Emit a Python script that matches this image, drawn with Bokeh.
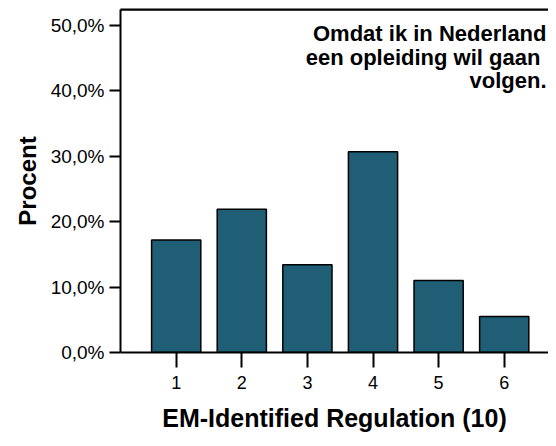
from bokeh.plotting import figure
from bokeh.models import FixedTicker, LinearAxis, Range1d, Label, Span
from bokeh.embed import file_html
from bokeh.resources import INLINE

categories = [1, 2, 3, 4, 5, 6]
percent = [17.2, 21.9, 13.4, 30.7, 11.0, 5.5]
y_ticks = [0, 10, 20, 30, 40, 50]
y_tick_labels = ["0,0%", "10,0%", "20,0%", "30,0%", "40,0%", "50,0%"]
title_lines = ["Omdat ik in Nederland", "een opleiding wil gaan ", "volgen."]
x_title = "EM-Identified Regulation (10)"
y_title = "Procent"

FONT = "Liberation Sans"
Y_MAX = 52.45

p = figure(width=548, height=438, output_backend="svg", toolbar_location=None,
           x_range=Range1d(0.151, 6.675), y_range=Range1d(0, Y_MAX),
           min_border_left=120, min_border_right=0, min_border_top=9, min_border_bottom=86)
p.outline_line_color = None
p.xgrid.visible = False
p.ygrid.visible = False

p.vbar(x=categories, top=percent, width=0.75, fill_color="#1F5E74",
       line_color="black", line_width=1.5)

# axes
for ax in [p.xaxis[0], p.yaxis[0]]:
    ax.axis_line_width = 2
    ax.axis_line_color = "black"
    ax.major_tick_line_width = 2
    ax.major_tick_line_color = "black"
    ax.minor_tick_line_color = None
    ax.major_tick_in = 0
    ax.major_label_text_font = FONT
    ax.major_label_text_color = "black"
    ax.axis_label_text_font = FONT
    ax.axis_label_text_font_style = "bold"
    ax.axis_label_text_color = "black"

p.xaxis.ticker = FixedTicker(ticks=categories)
p.xaxis.major_tick_out = 15
p.xaxis.major_label_standoff = 8
p.xaxis.major_label_text_font_size = "18px"
p.xaxis.axis_label = x_title
p.xaxis.axis_label_text_font_size = "25px"
p.xaxis.axis_label_standoff = 12

p.yaxis.ticker = FixedTicker(ticks=y_ticks)
p.yaxis.major_label_overrides = {t: l for t, l in zip(y_ticks, y_tick_labels)}
p.yaxis.major_tick_out = 11
p.yaxis.major_label_standoff = 5
p.yaxis.major_label_text_font_size = "19px"
p.yaxis.axis_label = y_title
p.yaxis.axis_label_text_font_size = "24px"
p.yaxis.axis_label_standoff = 7

# top frame line: an axis without ticks plus a span at the top of the range
top_axis = LinearAxis(ticker=FixedTicker(ticks=[]), axis_line_width=2,
                      axis_line_color="black",
                      major_tick_line_color=None, minor_tick_line_color=None,
                      major_tick_out=0, major_label_standoff=0)
p.add_layout(top_axis, "above")
p.add_layout(Span(location=Y_MAX, dimension="width", line_color="black", line_width=2))

for i, line in enumerate(title_lines):
    p.add_layout(Label(x=426, y=319 - i * 23.5, x_units="screen", y_units="screen",
                       text=line, text_font=FONT, text_font_style="bold",
                       text_font_size="22px", text_align="right",
                       text_baseline="middle", text_color="black"))

open("out.html", "w").write(file_html(p, INLINE))
